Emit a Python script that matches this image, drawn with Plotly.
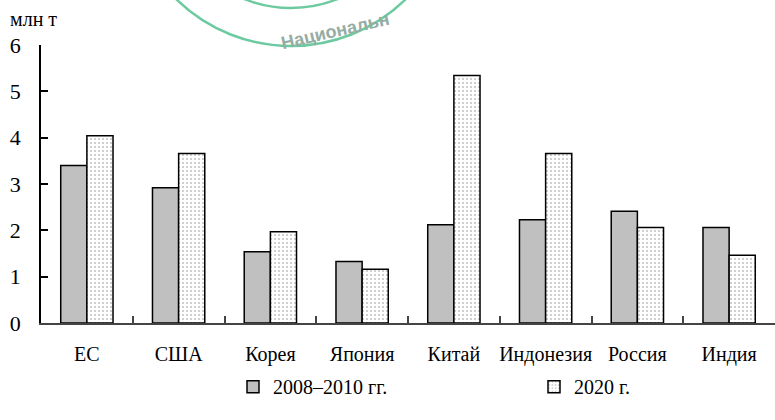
import plotly.graph_objects as go

categories = ["ЕС", "США", "Корея", "Япония", "Китай", "Индонезия", "Россия", "Индия"]
values_2008_2010 = [3.40, 2.92, 1.54, 1.33, 2.12, 2.23, 2.41, 2.06]
values_2020 = [4.04, 3.66, 1.97, 1.16, 5.34, 3.66, 2.06, 1.46]
series_names = ["2008–2010 гг.", "2020 г."]
y_ticks = [0, 1, 2, 3, 4, 5, 6]

FONT = "Liberation Serif, Times New Roman, serif"

fig = go.Figure()
fig.add_trace(go.Bar(
    x=categories, y=values_2008_2010, name=series_names[0], legend="legend",
    marker=dict(color="#c0c0c0", line=dict(color="black", width=1.5)),
))
fig.add_trace(go.Bar(
    x=categories, y=values_2020, name=series_names[1], legend="legend2",
    marker=dict(color="white", line=dict(color="black", width=1.5),
                pattern=dict(shape=".", size=4, solidity=0.2,
                             fgcolor="#808080", bgcolor="white")),
))

# faint watermark stamp (scan artifact in reference)
fig.add_shape(type="circle", xref="paper", yref="paper",
              x0=(291 - 164 - 41) / 734, x1=(291 + 164 - 41) / 734,
              y0=(323.3 - 46) / 278.3, y1=(323.3 - 46 + 328) / 278.3,
              line=dict(color="#6cc9a0", width=2.5), layer="below")
fig.add_shape(type="circle", xref="paper", yref="paper",
              x0=(291 - 126 - 41) / 734, x1=(291 + 126 - 41) / 734,
              y0=(323.3 - 8) / 278.3, y1=(323.3 - 8 + 252) / 278.3,
              line=dict(color="#6cc9a0", width=2.5), layer="below")
fig.add_annotation(text="<b>Национальн</b>", xref="paper", yref="paper",
                   x=(335 - 41) / 734, y=(323.3 - 6) / 278.3,
                   showarrow=False, textangle=-13,
                   font=dict(family="Liberation Sans", size=18, color="#95ada3"))

fig.add_annotation(text="млн т", xref="paper", yref="paper",
                   x=(8 - 41) / 734, y=(323.3 - 19) / 278.3,
                   xanchor="left", yanchor="middle", showarrow=False,
                   font=dict(family=FONT, size=20, color="black"))

legend_common = dict(orientation="h", xanchor="left", yanchor="middle",
                     y=(323.3 - 387) / 278.3,
                     font=dict(family=FONT, size=20, color="black"),
                     bgcolor="rgba(0,0,0,0)")

fig.update_layout(
    width=775, height=420,
    margin=dict(l=41, r=0, t=45, b=96.7, autoexpand=False),
    plot_bgcolor="white", paper_bgcolor="white",
    barmode="group", bargap=0.43, bargroupgap=0,
    font=dict(family=FONT, size=21, color="black"),
    showlegend=True,
    legend=dict(x=(233 - 41) / 734, **legend_common),
    legend2=dict(x=(534 - 41) / 734, **legend_common),
)
fig.update_xaxes(
    showline=True, linecolor="#444", linewidth=1.5,
    ticks="inside", tickson="boundaries", ticklen=7, tickcolor="#444", tickwidth=1.5,
    ticklabelstandoff=12, showgrid=False, tickangle=0, automargin=False,
    tickfont=dict(family=FONT, size=20, color="black"),
)
fig.update_yaxes(
    range=[0, 6], tickvals=y_ticks, showline=True, linecolor="black", linewidth=1.5,
    ticks="inside", ticklen=7, tickcolor="black", tickwidth=1.5,
    ticklabelstandoff=14, showgrid=False, zeroline=False, automargin=False,
    tickfont=dict(family=FONT, size=22, color="black"),
)

fig.write_html("out.html", config={"displayModeBar": False},
               post_script="document.body.style.margin='0';document.body.style.overflow='hidden';")
